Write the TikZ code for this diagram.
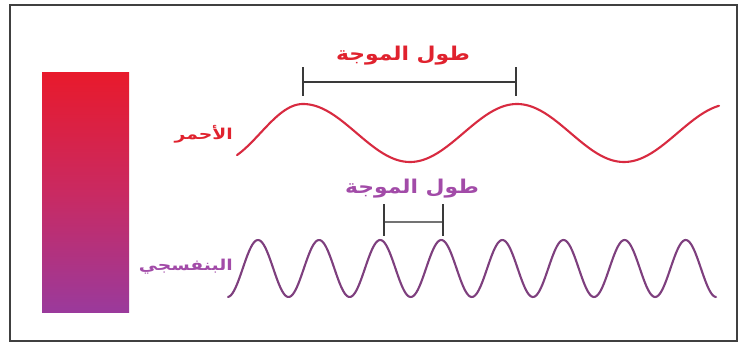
\documentclass[tikz,border=0pt]{standalone}
\usepackage{fontspec}
\newfontfamily\arabicfont[Script=Arabic]{DejaVu Sans}
\TeXXeTstate=1
\definecolor{redtxt}{HTML}{E0222E}
\definecolor{redwave}{HTML}{D82A40}
\definecolor{viotxt}{HTML}{A24BA8}
\definecolor{viowave}{HTML}{7E3F7E}
\definecolor{bartop}{HTML}{E81A2C}
\definecolor{barmid}{HTML}{C92A62}
\definecolor{barbot}{HTML}{9A3A9C}
\definecolor{barline}{HTML}{3A3A3A}
\tikzset{
  arlabel/.style={font=\arabicfont\bfseries\fontsize{19}{22}\selectfont, inner sep=0pt, xscale=1.15, transform shape},
  sidelabel/.style={font=\arabicfont\bfseries\fontsize{15}{18}\selectfont, inner sep=0pt, anchor=east, xscale=1.25, transform shape},
  measure/.style={draw=barline, line width=1.3pt},
  wave/.style={line width=2.1pt, line cap=round, line join=round}
}
\begin{document}
\begin{tikzpicture}[x=1pt,y=-1pt]
\useasboundingbox (0,0) rectangle (740,347);
\fill[white] (0,0) rectangle (740,347);
% frame
\draw[line width=1.8pt, draw=black!75] (10,5) rectangle (737,341);
% spectrum bar
\shade[top color=bartop, bottom color=barbot, middle color=barmid] (42,73) rectangle (129,313);
% red wave
\draw[wave, redwave] plot[domain=-139.5:0, samples=40, variable=\t] ({303+66*\t/139.5},{133-29*cos(\t)})
  -- plot[domain=303:719, samples=200, variable=\x] (\x,{133-29*cos((\x-303)/214*360)});
% violet wave
\draw[wave, viowave] plot[domain=228:716, samples=400, variable=\x] (\x,{268.5-28.5*cos((\x-258)/61.1*360)});
% red wavelength marker
\coordinate (r1) at (303,82);
\coordinate (r2) at (516,82);
\draw[measure] (r1) -- (r2);
\draw[measure] ([yshift=-14pt]r1) -- ([yshift=15pt]r1);
\draw[measure] ([yshift=-14pt]r2) -- ([yshift=15pt]r2);
\node[arlabel, text=redtxt] (rl) at (403,56) {\beginR طول الموجة\endR};
% violet wavelength marker
\coordinate (v1) at (384,222);
\coordinate (v2) at (443,222);
\draw[measure, draw=black!55] (v1) -- (v2);
\draw[measure] ([yshift=-14pt]v1) -- ([yshift=18pt]v1);
\draw[measure] ([yshift=-14pt]v2) -- ([yshift=18pt]v2);
\node[arlabel, text=viotxt] (vl) at (412,189) {\beginR طول الموجة\endR};
% side labels
\node[sidelabel, text=redtxt] (red) at (233,134) {\beginR الأحمر\endR};
\node[sidelabel, text=viotxt] (vio) at (233,267) {\beginR البنفسجي\endR};
\end{tikzpicture}
\end{document}
